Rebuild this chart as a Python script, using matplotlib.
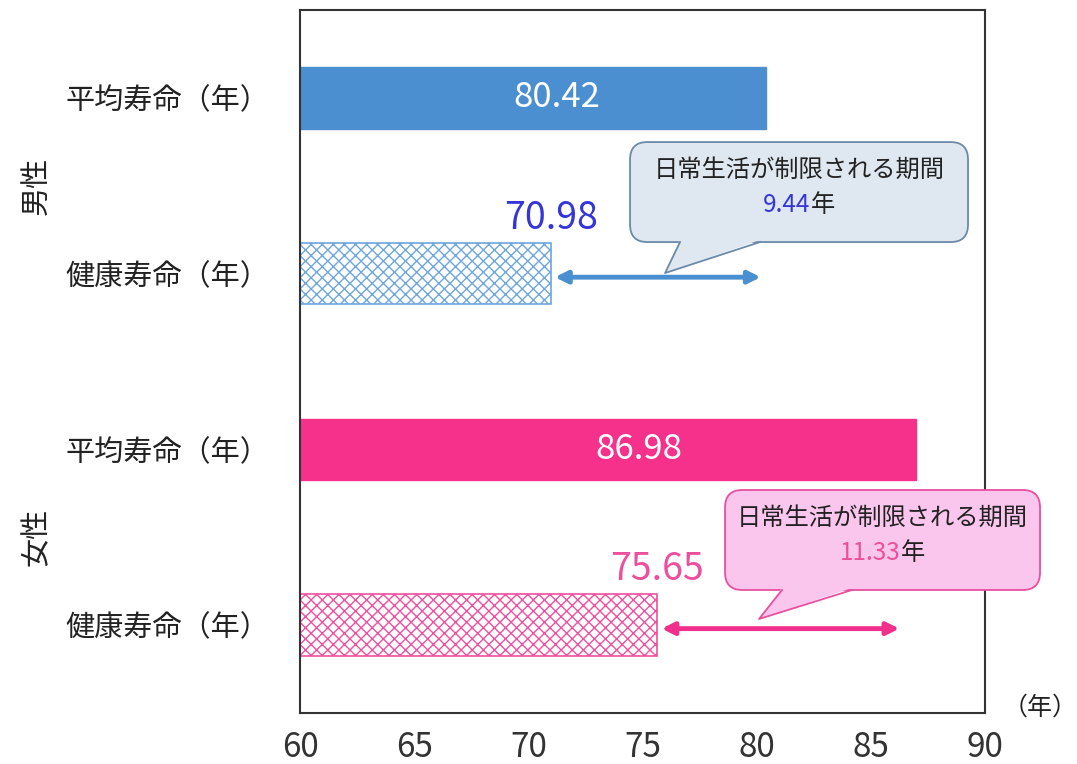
import numpy as np
import matplotlib
matplotlib.use('Agg')
import matplotlib.pyplot as plt
import matplotlib.transforms as mtransforms
from matplotlib.patches import FancyBboxPatch, Polygon

plt.rcParams['font.family'] = ['Noto Sans CJK JP', 'DejaVu Sans']
plt.rcParams['hatch.linewidth'] = 1.0

# data
row_labels = ['平均寿命（年）', '健康寿命（年）', '平均寿命（年）', '健康寿命（年）']
groups = ['男性', '女性']
avg_life = [80.42, 86.98]        # 男性, 女性
healthy_life = [70.98, 75.65]
x_ticks = [60, 65, 70, 75, 80, 85, 90]

# styles
C_SOLID = ['#4b8fd1', '#f5318c']
C_HATCH = ['#6ea6dd', '#f04f9e']
C_VALUE = ['#3535d8', '#ec4f9c']
C_ARROW = ['#4a8fd0', '#f0308c']
C_BOX_FACE = ['#dfe8f1', '#fbc6ee']
C_BOX_EDGE = ['#6b8aa8', '#e8509f']
ARROW_SHRINK = [4, 12]

fig = plt.figure(figsize=(10.77, 7.64), dpi=100)
ax = fig.add_axes([0.2786, 0.0668, 0.636, 0.920])

BAR_H = 0.35
for g in range(2):
    y_avg, y_hl = 2 * g, 2 * g + 1
    ax.barh(y_avg, avg_life[g] - 60, left=60, height=BAR_H, color=C_SOLID[g],
            edgecolor=C_SOLID[g], zorder=2)
    ax.barh(y_hl, healthy_life[g] - 60, left=60, height=BAR_H, color='white',
            edgecolor=C_HATCH[g], hatch='xxx', lw=1.2, zorder=2)

    # value inside the solid bar
    ax.text(60 + 0.55 * (avg_life[g] - 60), y_avg, f'{avg_life[g]:.2f}',
            color='white', fontsize=25, ha='center', va='center', zorder=3)
    # value above the hatched bar
    ax.text(healthy_life[g], y_hl - BAR_H / 2 - 0.03, f'{healthy_life[g]:.2f}',
            color=C_VALUE[g], fontsize=27, ha='center', va='bottom', zorder=3)

    # double arrow for the restricted period
    ax.annotate('', xy=(avg_life[g], y_hl + 0.02), xytext=(healthy_life[g], y_hl + 0.02),
                arrowprops=dict(arrowstyle='<|-|>', color=C_ARROW[g], lw=3.5,
                                mutation_scale=18, shrinkA=3,
                                shrinkB=ARROW_SHRINK[g]),
                zorder=3)

ax.set_xlim(60, 90)
ax.set_ylim(3.5, -0.5)
ax.set_xticks(x_ticks)
ax.set_xticklabels([str(v) for v in x_ticks], fontsize=24, color='#333333')
ax.set_yticks(range(4))
ax.set_yticklabels(row_labels, fontsize=21, color='#222222')
ax.tick_params(axis='x', length=0, pad=12)
ax.tick_params(axis='y', length=0, pad=22)
for sp in ax.spines.values():
    sp.set_color('#333333')
    sp.set_linewidth(1.5)

# group labels on the far left
blend = mtransforms.blended_transform_factory(fig.transFigure, ax.transData)
for g, name in enumerate(groups):
    ax.text(0.034, 2 * g + 0.5, name, transform=blend, rotation=90,
            fontsize=21, ha='center', va='center', color='#222222')

ax.text(1.08, 0.008, '（年）', transform=ax.transAxes, fontsize=18,
        ha='center', va='center', color='#222222')


def callout(x0, x1, y0, y1, tail, face, edge):
    box = FancyBboxPatch((x0, y0), x1 - x0, y1 - y0,
                         boxstyle='round,pad=0,rounding_size=0.025',
                         transform=ax.transAxes, fc=face, ec=edge, lw=1.3,
                         clip_on=False, zorder=4)
    ax.add_patch(box)
    (bl, br, tip) = tail
    tri = Polygon([(bl, y0 + 0.003), (br, y0 + 0.003), tip], closed=True,
                  transform=ax.transAxes, fc=face, ec='none', clip_on=False, zorder=5)
    ax.add_patch(tri)
    ax.plot([bl, tip[0], br], [y0, tip[1], y0], color=edge, lw=1.3,
            transform=ax.transAxes, clip_on=False, zorder=5)


def two_tone(x, y, s1, c1, s2, c2, size):
    t1 = ax.text(x, y, s1, color=c1, fontsize=size, ha='left', va='center',
                 transform=ax.transAxes, zorder=6)
    t2 = ax.text(x, y, s2, color=c2, fontsize=size, ha='left', va='center',
                 transform=ax.transAxes, zorder=6)
    fig.canvas.draw()
    w1 = t1.get_window_extent().width
    w2 = t2.get_window_extent().width
    half = (w1 + w2) / 2
    t1.set_transform(ax.transAxes + mtransforms.ScaledTranslation(
        -half / fig.dpi, 0, fig.dpi_scale_trans))
    t2.set_transform(ax.transAxes + mtransforms.ScaledTranslation(
        (w1 - half) / fig.dpi, 0, fig.dpi_scale_trans))


def px(xp, yp):
    return ((xp - 300) / 685, (713 - yp) / 703)


boxes = [
    # x0, x1, top, bottom (pixels), tail base left/right, tail tip
    (630, 968, 142, 242, 680, 760, (665, 273)),
    (725, 1040, 490, 590, 782, 852, (759, 619)),
]
for g, (bx0, bx1, by_top, by_bot, tl, tr, tip) in enumerate(boxes):
    x0, y0 = px(bx0, by_bot)
    x1, y1 = px(bx1, by_top)
    callout(x0, x1, y0, y1, (px(tl, 0)[0], px(tr, 0)[0], px(*tip)),
            C_BOX_FACE[g], C_BOX_EDGE[g])
    cx = (x0 + x1) / 2
    ax.text(cx, y1 - 0.04, '日常生活が制限される期間', transform=ax.transAxes,
            fontsize=17.5, ha='center', va='center', color='#222222', zorder=6)
    gap = avg_life[g] - healthy_life[g]
    two_tone(cx, y1 - 0.09, f'{gap:.2f}', C_VALUE[g], '年', '#222222', 17.5)

fig.savefig('out.png', dpi=100)
